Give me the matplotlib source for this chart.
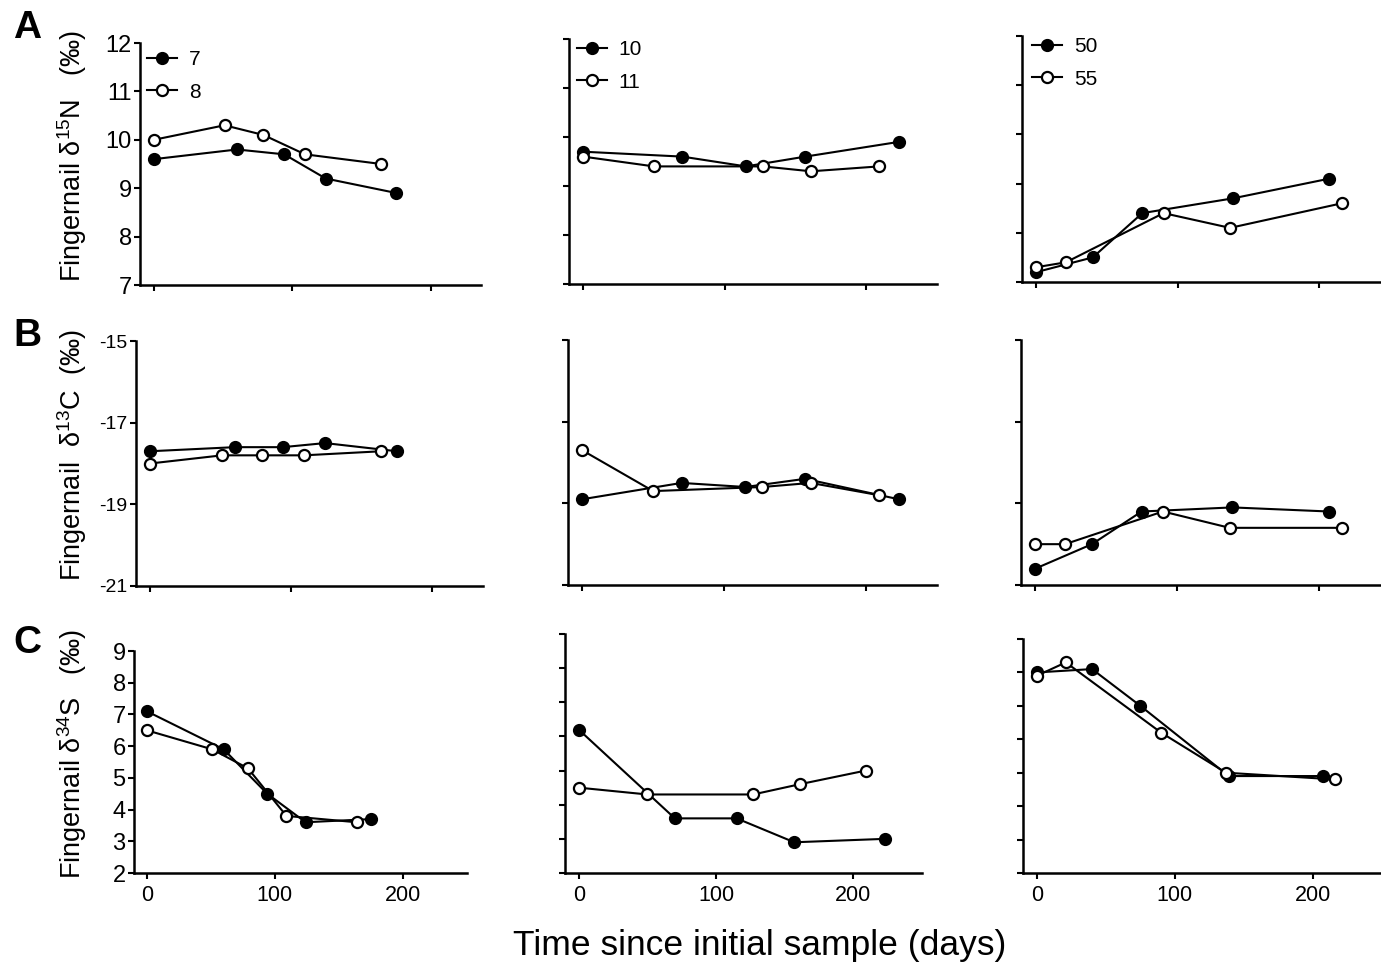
import matplotlib
matplotlib.use("Agg")
from matplotlib import pyplot as plt

plt.rcParams['font.family'] = ['Liberation Sans', 'DejaVu Sans']
plt.rcParams['mathtext.default'] = 'regular'
plt.rcParams['axes.unicode_minus'] = False

# sampling days per subject
days_7 = [0, 60, 94, 124, 175]
days_8 = [0, 51, 79, 109, 164]
days_10 = [0, 70, 115, 157, 223]
days_11 = [0, 50, 127, 161, 209]
days_50 = [0, 40, 75, 139, 207]
days_55 = [0, 21, 90, 137, 216]

# fingernail d15N
d15N_7 = [9.6, 9.8, 9.7, 9.2, 8.9]
d15N_8 = [10.0, 10.3, 10.1, 9.7, 9.5]
d15N_10 = [9.7, 9.6, 9.4, 9.6, 9.9]
d15N_11 = [9.6, 9.4, 9.4, 9.3, 9.4]
d15N_50 = [7.2, 7.5, 8.4, 8.7, 9.1]
d15N_55 = [7.3, 7.4, 8.4, 8.1, 8.6]

# fingernail d13C
d13C_7 = [-17.7, -17.6, -17.6, -17.5, -17.7]
d13C_8 = [-18.0, -17.8, -17.8, -17.8, -17.7]
d13C_10 = [-18.9, -18.5, -18.6, -18.4, -18.9]
d13C_11 = [-17.7, -18.7, -18.6, -18.5, -18.8]
d13C_50 = [-20.6, -20.0, -19.2, -19.1, -19.2]
d13C_55 = [-20.0, -20.0, -19.2, -19.6, -19.6]

# fingernail d34S
d34S_7 = [7.1, 5.9, 4.5, 3.6, 3.7]
d34S_8 = [6.5, 5.9, 5.3, 3.8, 3.6]
d34S_10 = [6.2, 3.6, 3.6, 2.9, 3.0]
d34S_11 = [4.5, 4.3, 4.3, 4.6, 5.0]
d34S_50 = [8.0, 8.1, 7.0, 4.9, 4.9]
d34S_55 = [7.9, 8.3, 6.2, 5.0, 4.8]

pairs = [("7", "8"), ("10", "11"), ("50", "55")]
days = {"7": days_7, "8": days_8, "10": days_10, "11": days_11, "50": days_50, "55": days_55}
rows = [
    {"7": d15N_7, "8": d15N_8, "10": d15N_10, "11": d15N_11, "50": d15N_50, "55": d15N_55},
    {"7": d13C_7, "8": d13C_8, "10": d13C_10, "11": d13C_11, "50": d13C_50, "55": d13C_55},
    {"7": d34S_7, "8": d34S_8, "10": d34S_10, "11": d34S_11, "50": d34S_50, "55": d34S_55},
]
ylims = [(7, 12), (-21, -15), (2, 9)]
yticks = [[7, 8, 9, 10, 11, 12], [-21, -19, -17, -15], [2, 3, 4, 5, 6, 7, 8, 9]]
ylabels = [r"Fingernail δ$^{15}$N   (‰)", r"Fingernail  δ$^{13}$C  (‰)", r"Fingernail δ$^{34}$S   (‰)"]
letters = ["A", "B", "C"]

W, H = 1381, 964
fig = plt.figure(figsize=(W / 100, H / 100), dpi=100)

# axes boxes in pixels: left, right, top, bottom
boxes = [
    [(140, 481, 43, 285), (569, 937, 39, 284), (1022, 1390, 36, 282)],
    [(136, 483, 341, 586), (568, 937, 340, 585), (1021, 1390, 340, 585)],
    [(134, 467, 651, 873), (565, 922, 634, 873), (1023, 1382, 639, 873)],
]
legend_xy = [(147, 50), (577, 40), (1032, 37)]


def px_box(l, r, t, b):
    return [l / W, 1 - b / H, (r - l) / W, (b - t) / H]


for i in range(3):
    for j in range(3):
        ax = fig.add_axes(px_box(*boxes[i][j]))
        a, b = pairs[j]
        ax.plot(days[a], rows[i][a], '-o', color='k', lw=1.5, ms=8,
                mfc='k', mec='k', mew=1.5, label=a, clip_on=False)
        ax.plot(days[b], rows[i][b], '-o', color='k', lw=1.5, ms=8,
                mfc='white', mec='k', mew=1.6, label=b, clip_on=False)
        ax.set_ylim(*ylims[i])
        ax.set_yticks(yticks[i])
        if j == 0 and i < 2:
            ax.set_xlim(-10, 236)
        else:
            ax.set_xlim(-10, 250)
        ax.set_xticks([0, 100, 200])
        for s in ['top', 'right']:
            ax.spines[s].set_visible(False)
        for s in ['left', 'bottom']:
            ax.spines[s].set_linewidth(1.8)
        ax.tick_params(direction='out', length=4.5, width=1.5, pad=1.5)
        ax.tick_params(axis='y', labelsize=14 if i == 1 else 17)
        ax.tick_params(axis='x', pad=4, labelsize=15.5)
        if j > 0:
            ax.set_yticklabels([])
        if i < 2:
            ax.set_xticklabels([])
        if i == 0:
            lx, ly = legend_xy[j]
            ax.legend(loc='upper left', bbox_to_anchor=(lx / W, 1 - ly / H),
                      bbox_transform=fig.transFigure, frameon=False, fontsize=15,
                      borderpad=0, borderaxespad=0, handlelength=1.45,
                      handletextpad=0.55, labelspacing=0.65)

    ax0_box = boxes[i][0]
    cy = (ax0_box[2] + ax0_box[3]) / 2 - 8
    fig.text(72 / W, 1 - cy / H, ylabels[i], rotation=90, fontsize=19.5,
             ha='center', va='center')
    fig.text(27 / W, 1 - [28, 336, 643][i] / H, letters[i], fontsize=28,
             fontweight='bold', ha='center', va='center')

fig.text(760 / W, 1 - 945 / H, "Time since initial sample (days)", fontsize=25.5,
         ha='center', va='center')

fig.savefig("out.png", dpi=100)
